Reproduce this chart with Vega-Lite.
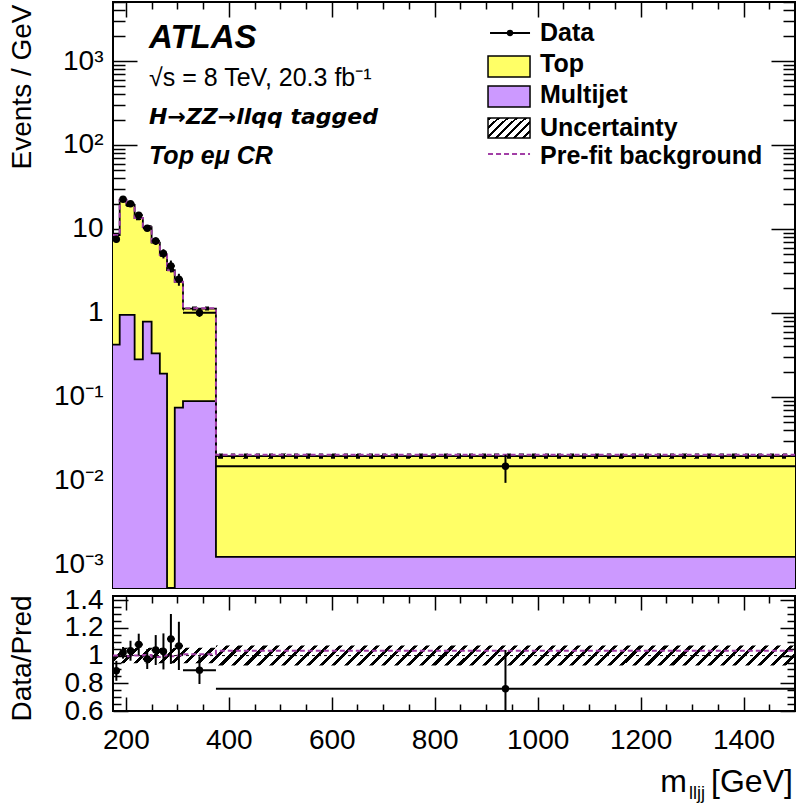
{
  "$schema": "https://vega.github.io/schema/vega-lite/v6.json",
  "autosize": {"type": "pad"},
  "bounds": "flush",
  "padding": {"left": 6, "top": 0, "right": 2, "bottom": 2},
  "spacing": 8,
  "config": {
    "view": {"stroke": "black", "strokeWidth": 2},
    "font": "Liberation Sans",
    "axis": {"domain": false, "grid": false, "labelFont": "Liberation Sans", "labelFontSize": 28, "labelColor": "black", "tickColor": "black", "tickWidth": 1.5, "tickSize": 0, "titleFont": "Liberation Sans", "titleFontSize": 28, "titleFontWeight": "normal", "titleColor": "black", "labelOverlap": false, "labelFlush": false, "labelBound": false, "zindex": 1, "minExtent": 0}
  },
  "datasets": {
    "bins": [
      {"lo": 175, "hi": 188, "xc": 181.5, "total": 8.47, "mj": 0.42, "pre": 8.47, "uLo": 8.0, "uHi": 8.94, "data": 7.54, "dLo": 6.93, "dHi": 8.15, "ratio": 0.89, "rLo": 0.818, "rHi": 0.962, "preR": 1.0, "bLo": 0.944, "bHi": 1.056},
      {"lo": 188, "hi": 201, "xc": 194.5, "total": 22.2, "mj": 0.95, "pre": 22.31, "uLo": 20.96, "uHi": 23.44, "data": 22.6, "dLo": 21.67, "dHi": 23.53, "ratio": 1.02, "rLo": 0.978, "rHi": 1.062, "preR": 1.005, "bLo": 0.944, "bHi": 1.056},
      {"lo": 201, "hi": 217, "xc": 209, "total": 19.3, "mj": 0.95, "pre": 19.2, "uLo": 18.22, "uHi": 20.38, "data": 20.0, "dLo": 18.61, "dHi": 21.39, "ratio": 1.035, "rLo": 0.963, "rHi": 1.107, "preR": 0.995, "bLo": 0.944, "bHi": 1.056},
      {"lo": 217, "hi": 233, "xc": 225, "total": 13.5, "mj": 0.28, "pre": 13.5, "uLo": 12.74, "uHi": 14.26, "data": 14.6, "dLo": 13.55, "dHi": 15.65, "ratio": 1.08, "rLo": 1.002, "rHi": 1.158, "preR": 1.0, "bLo": 0.944, "bHi": 1.056},
      {"lo": 233, "hi": 250, "xc": 241.5, "total": 10.5, "mj": 0.79, "pre": 10.55, "uLo": 9.91, "uHi": 11.09, "data": 10.2, "dLo": 9.45, "dHi": 10.95, "ratio": 0.975, "rLo": 0.903, "rHi": 1.047, "preR": 1.005, "bLo": 0.944, "bHi": 1.056},
      {"lo": 250, "hi": 266, "xc": 258, "total": 6.9, "mj": 0.33, "pre": 6.83, "uLo": 6.51, "uHi": 7.29, "data": 7.2, "dLo": 6.45, "dHi": 7.95, "ratio": 1.04, "rLo": 0.932, "rHi": 1.148, "preR": 0.99, "bLo": 0.944, "bHi": 1.056},
      {"lo": 266, "hi": 280, "xc": 273, "total": 4.95, "mj": 0.19, "pre": 4.95, "uLo": 4.67, "uHi": 5.23, "data": 5.1, "dLo": 4.46, "dHi": 5.74, "ratio": 1.03, "rLo": 0.9, "rHi": 1.16, "preR": 1.0, "bLo": 0.944, "bHi": 1.056},
      {"lo": 280, "hi": 295, "xc": 287.5, "total": 3.24, "mj": 0.0001, "pre": 3.22, "uLo": 3.06, "uHi": 3.42, "data": 3.63, "dLo": 3.05, "dHi": 4.21, "ratio": 1.12, "rLo": 0.94, "rHi": 1.3, "preR": 0.995, "bLo": 0.944, "bHi": 1.056},
      {"lo": 295, "hi": 311, "xc": 303, "total": 2.35, "mj": 0.0746, "pre": 2.35, "uLo": 2.22, "uHi": 2.48, "data": 2.52, "dLo": 2.11, "dHi": 2.93, "ratio": 1.07, "rLo": 0.896, "rHi": 1.244, "preR": 1.0, "bLo": 0.944, "bHi": 1.056},
      {"lo": 311, "hi": 375, "xc": 343, "total": 1.13, "mj": 0.0895, "pre": 1.141, "uLo": 1.067, "uHi": 1.193, "data": 1.01, "dLo": 0.897, "dHi": 1.123, "ratio": 0.895, "rLo": 0.795, "rHi": 0.995, "preR": 1.01, "bLo": 0.944, "bHi": 1.056},
      {"lo": 375, "hi": 1500, "xc": 937.5, "total": 0.0198, "mj": 0.00125, "pre": 0.0205, "uLo": 0.01837, "uHi": 0.02123, "data": 0.015, "dLo": 0.0095, "dHi": 0.0205, "ratio": 0.76, "rLo": 0.48, "rHi": 1.04, "preR": 1.035, "bLo": 0.928, "bHi": 1.072}
    ]
  },
  "vconcat": [
    {
      "width": 682,
      "height": 586,
      "data": {"name": "bins"},
      "resolve": {"axis": {"x": "independent", "y": "independent"}},
      "layer": [
        {
          "transform": [{"fold": ["lo", "hi"], "as": ["edge", "x"]}],
          "mark": {"type": "area", "fill": "#cc99ff", "stroke": null},
          "encoding": {
            "x": {"field": "x", "type": "quantitative", "scale": {"domain": [175, 1500], "nice": false, "zero": false},
              "axis": {"orient": "bottom", "labels": false, "title": null, "tickSize": 15, "offset": -15, "values": [200, 400, 600, 800, 1000, 1200, 1400]}},
            "y": {"field": "mj", "type": "quantitative", "stack": null, "scale": {"type": "log", "domain": [0.000532, 5040], "nice": false, "clamp": true},
              "axis": {"orient": "left", "ticks": false, "title": "Events / GeV", "titleX": -83, "titleY": 2, "titleAngle": -90, "titleAlign": "right", "titleBaseline": "alphabetic", "labelPadding": 10,
                "values": [0.001, 0.01, 0.1, 1, 10, 100, 1000],
                "labelExpr": "datum.value == 1000 ? '10³' : datum.value == 100 ? '10²' : datum.value == 10 ? '10' : datum.value == 1 ? '1' : datum.value == 0.1 ? '10⁻¹' : datum.value == 0.01 ? '10⁻²' : '10⁻³'"}},
            "y2": {"datum": 0.000532}
          }
        },
        {
          "transform": [{"fold": ["lo", "hi"], "as": ["edge", "x"]}],
          "mark": {"type": "area", "fill": "#ffff66", "stroke": null},
          "encoding": {
            "x": {"field": "x", "type": "quantitative",
              "axis": {"orient": "top", "labels": false, "title": null, "tickSize": 15, "offset": -15, "values": [200, 400, 600, 800, 1000, 1200, 1400]}},
            "y": {"field": "total", "type": "quantitative", "stack": null,
              "axis": {"orient": "right", "labels": false, "title": null, "tickSize": 24, "offset": -24, "values": [0.001, 0.01, 0.1, 1, 10, 100, 1000]}},
            "y2": {"field": "mj"}
          }
        },
        {
          "transform": [{"fold": ["lo", "hi"], "as": ["edge", "x"]}],
          "mark": {"type": "area", "stroke": null, "fill": {"gradient": "linear", "x1": 0, "y1": 0, "x2": 1.028, "y2": 0.0301, "stops": [{"offset":0,"color":"#000"},{"offset":0.0059,"color":"#000"},{"offset":0.0059,"color":"#0000"},{"offset":0.0179,"color":"#0000"},{"offset":0.0179,"color":"#000"},{"offset":0.0238,"color":"#000"},{"offset":0.0238,"color":"#0000"},{"offset":0.0357,"color":"#0000"},{"offset":0.0357,"color":"#000"},{"offset":0.0416,"color":"#000"},{"offset":0.0416,"color":"#0000"},{"offset":0.0536,"color":"#0000"},{"offset":0.0536,"color":"#000"},{"offset":0.0595,"color":"#000"},{"offset":0.0595,"color":"#0000"},{"offset":0.0714,"color":"#0000"},{"offset":0.0714,"color":"#000"},{"offset":0.0773,"color":"#000"},{"offset":0.0773,"color":"#0000"},{"offset":0.0893,"color":"#0000"},{"offset":0.0893,"color":"#000"},{"offset":0.0952,"color":"#000"},{"offset":0.0952,"color":"#0000"},{"offset":0.1071,"color":"#0000"},{"offset":0.1071,"color":"#000"},{"offset":0.113,"color":"#000"},{"offset":0.113,"color":"#0000"},{"offset":0.125,"color":"#0000"},{"offset":0.125,"color":"#000"},{"offset":0.1309,"color":"#000"},{"offset":0.1309,"color":"#0000"},{"offset":0.1429,"color":"#0000"},{"offset":0.1429,"color":"#000"},{"offset":0.1488,"color":"#000"},{"offset":0.1488,"color":"#0000"},{"offset":0.1607,"color":"#0000"},{"offset":0.1607,"color":"#000"},{"offset":0.1666,"color":"#000"},{"offset":0.1666,"color":"#0000"},{"offset":0.1786,"color":"#0000"},{"offset":0.1786,"color":"#000"},{"offset":0.1845,"color":"#000"},{"offset":0.1845,"color":"#0000"},{"offset":0.1964,"color":"#0000"},{"offset":0.1964,"color":"#000"},{"offset":0.2023,"color":"#000"},{"offset":0.2023,"color":"#0000"},{"offset":0.2143,"color":"#0000"},{"offset":0.2143,"color":"#000"},{"offset":0.2202,"color":"#000"},{"offset":0.2202,"color":"#0000"},{"offset":0.2321,"color":"#0000"},{"offset":0.2321,"color":"#000"},{"offset":0.238,"color":"#000"},{"offset":0.238,"color":"#0000"},{"offset":0.25,"color":"#0000"},{"offset":0.25,"color":"#000"},{"offset":0.2559,"color":"#000"},{"offset":0.2559,"color":"#0000"},{"offset":0.2679,"color":"#0000"},{"offset":0.2679,"color":"#000"},{"offset":0.2738,"color":"#000"},{"offset":0.2738,"color":"#0000"},{"offset":0.2857,"color":"#0000"},{"offset":0.2857,"color":"#000"},{"offset":0.2916,"color":"#000"},{"offset":0.2916,"color":"#0000"},{"offset":0.3036,"color":"#0000"},{"offset":0.3036,"color":"#000"},{"offset":0.3095,"color":"#000"},{"offset":0.3095,"color":"#0000"},{"offset":0.3214,"color":"#0000"},{"offset":0.3214,"color":"#000"},{"offset":0.3273,"color":"#000"},{"offset":0.3273,"color":"#0000"},{"offset":0.3393,"color":"#0000"},{"offset":0.3393,"color":"#000"},{"offset":0.3452,"color":"#000"},{"offset":0.3452,"color":"#0000"},{"offset":0.3571,"color":"#0000"},{"offset":0.3571,"color":"#000"},{"offset":0.363,"color":"#000"},{"offset":0.363,"color":"#0000"},{"offset":0.375,"color":"#0000"},{"offset":0.375,"color":"#000"},{"offset":0.3809,"color":"#000"},{"offset":0.3809,"color":"#0000"},{"offset":0.3929,"color":"#0000"},{"offset":0.3929,"color":"#000"},{"offset":0.3988,"color":"#000"},{"offset":0.3988,"color":"#0000"},{"offset":0.4107,"color":"#0000"},{"offset":0.4107,"color":"#000"},{"offset":0.4166,"color":"#000"},{"offset":0.4166,"color":"#0000"},{"offset":0.4286,"color":"#0000"},{"offset":0.4286,"color":"#000"},{"offset":0.4345,"color":"#000"},{"offset":0.4345,"color":"#0000"},{"offset":0.4464,"color":"#0000"},{"offset":0.4464,"color":"#000"},{"offset":0.4523,"color":"#000"},{"offset":0.4523,"color":"#0000"},{"offset":0.4643,"color":"#0000"},{"offset":0.4643,"color":"#000"},{"offset":0.4702,"color":"#000"},{"offset":0.4702,"color":"#0000"},{"offset":0.4821,"color":"#0000"},{"offset":0.4821,"color":"#000"},{"offset":0.488,"color":"#000"},{"offset":0.488,"color":"#0000"},{"offset":0.5,"color":"#0000"},{"offset":0.5,"color":"#000"},{"offset":0.5059,"color":"#000"},{"offset":0.5059,"color":"#0000"},{"offset":0.5179,"color":"#0000"},{"offset":0.5179,"color":"#000"},{"offset":0.5238,"color":"#000"},{"offset":0.5238,"color":"#0000"},{"offset":0.5357,"color":"#0000"},{"offset":0.5357,"color":"#000"},{"offset":0.5416,"color":"#000"},{"offset":0.5416,"color":"#0000"},{"offset":0.5536,"color":"#0000"},{"offset":0.5536,"color":"#000"},{"offset":0.5595,"color":"#000"},{"offset":0.5595,"color":"#0000"},{"offset":0.5714,"color":"#0000"},{"offset":0.5714,"color":"#000"},{"offset":0.5773,"color":"#000"},{"offset":0.5773,"color":"#0000"},{"offset":0.5893,"color":"#0000"},{"offset":0.5893,"color":"#000"},{"offset":0.5952,"color":"#000"},{"offset":0.5952,"color":"#0000"},{"offset":0.6071,"color":"#0000"},{"offset":0.6071,"color":"#000"},{"offset":0.613,"color":"#000"},{"offset":0.613,"color":"#0000"},{"offset":0.625,"color":"#0000"},{"offset":0.625,"color":"#000"},{"offset":0.6309,"color":"#000"},{"offset":0.6309,"color":"#0000"},{"offset":0.6429,"color":"#0000"},{"offset":0.6429,"color":"#000"},{"offset":0.6488,"color":"#000"},{"offset":0.6488,"color":"#0000"},{"offset":0.6607,"color":"#0000"},{"offset":0.6607,"color":"#000"},{"offset":0.6666,"color":"#000"},{"offset":0.6666,"color":"#0000"},{"offset":0.6786,"color":"#0000"},{"offset":0.6786,"color":"#000"},{"offset":0.6845,"color":"#000"},{"offset":0.6845,"color":"#0000"},{"offset":0.6964,"color":"#0000"},{"offset":0.6964,"color":"#000"},{"offset":0.7023,"color":"#000"},{"offset":0.7023,"color":"#0000"},{"offset":0.7143,"color":"#0000"},{"offset":0.7143,"color":"#000"},{"offset":0.7202,"color":"#000"},{"offset":0.7202,"color":"#0000"},{"offset":0.7321,"color":"#0000"},{"offset":0.7321,"color":"#000"},{"offset":0.738,"color":"#000"},{"offset":0.738,"color":"#0000"},{"offset":0.75,"color":"#0000"},{"offset":0.75,"color":"#000"},{"offset":0.7559,"color":"#000"},{"offset":0.7559,"color":"#0000"},{"offset":0.7679,"color":"#0000"},{"offset":0.7679,"color":"#000"},{"offset":0.7738,"color":"#000"},{"offset":0.7738,"color":"#0000"},{"offset":0.7857,"color":"#0000"},{"offset":0.7857,"color":"#000"},{"offset":0.7916,"color":"#000"},{"offset":0.7916,"color":"#0000"},{"offset":0.8036,"color":"#0000"},{"offset":0.8036,"color":"#000"},{"offset":0.8095,"color":"#000"},{"offset":0.8095,"color":"#0000"},{"offset":0.8214,"color":"#0000"},{"offset":0.8214,"color":"#000"},{"offset":0.8273,"color":"#000"},{"offset":0.8273,"color":"#0000"},{"offset":0.8393,"color":"#0000"},{"offset":0.8393,"color":"#000"},{"offset":0.8452,"color":"#000"},{"offset":0.8452,"color":"#0000"},{"offset":0.8571,"color":"#0000"},{"offset":0.8571,"color":"#000"},{"offset":0.863,"color":"#000"},{"offset":0.863,"color":"#0000"},{"offset":0.875,"color":"#0000"},{"offset":0.875,"color":"#000"},{"offset":0.8809,"color":"#000"},{"offset":0.8809,"color":"#0000"},{"offset":0.8929,"color":"#0000"},{"offset":0.8929,"color":"#000"},{"offset":0.8988,"color":"#000"},{"offset":0.8988,"color":"#0000"},{"offset":0.9107,"color":"#0000"},{"offset":0.9107,"color":"#000"},{"offset":0.9166,"color":"#000"},{"offset":0.9166,"color":"#0000"},{"offset":0.9286,"color":"#0000"},{"offset":0.9286,"color":"#000"},{"offset":0.9345,"color":"#000"},{"offset":0.9345,"color":"#0000"},{"offset":0.9464,"color":"#0000"},{"offset":0.9464,"color":"#000"},{"offset":0.9523,"color":"#000"},{"offset":0.9523,"color":"#0000"},{"offset":0.9643,"color":"#0000"},{"offset":0.9643,"color":"#000"},{"offset":0.9702,"color":"#000"},{"offset":0.9702,"color":"#0000"},{"offset":0.9821,"color":"#0000"},{"offset":0.9821,"color":"#000"},{"offset":0.988,"color":"#000"},{"offset":0.988,"color":"#0000"},{"offset":1,"color":"#0000"}]}},
          "encoding": {
            "x": {"field": "x", "type": "quantitative",
              "axis": {"orient": "bottom", "labels": false, "title": null, "tickSize": 7, "offset": -7, "values": [250,300,350,450,500,550,650,700,750,850,900,950,1050,1100,1150,1250,1300,1350,1450,1500]}},
            "y": {"field": "uLo", "type": "quantitative", "stack": null,
              "axis": {"orient": "left", "labels": false, "title": null, "tickSize": 24, "offset": -24, "values": [0.001, 0.01, 0.1, 1, 10, 100, 1000]}},
            "y2": {"field": "uHi"}
          }
        },
        {
          "transform": [{"fold": ["lo", "hi"], "as": ["edge", "x"]}],
          "mark": {"type": "line", "color": "black", "strokeWidth": 1.8},
          "encoding": {
            "x": {"field": "x", "type": "quantitative",
              "axis": {"orient": "top", "labels": false, "title": null, "tickSize": 7, "offset": -7, "values": [250,300,350,450,500,550,650,700,750,850,900,950,1050,1100,1150,1250,1300,1350,1450,1500]}},
            "y": {"field": "mj", "type": "quantitative",
              "axis": {"orient": "left", "labels": false, "title": null, "tickSize": 12, "offset": -12, "values": [0.0006,0.0007,0.0008,0.0009,0.002,0.003,0.004,0.005,0.006,0.007,0.008,0.009,0.02,0.03,0.04,0.05,0.06,0.07,0.08,0.09,0.2,0.3,0.4,0.5,0.6,0.7,0.8,0.9,2,3,4,5,6,7,8,9,20,30,40,50,60,70,80,90,200,300,400,500,600,700,800,900,2000,3000,4000,5000]}}
          }
        },
        {
          "transform": [{"fold": ["lo", "hi"], "as": ["edge", "x"]}],
          "mark": {"type": "line", "color": "black", "strokeWidth": 1.8},
          "encoding": {
            "x": {"field": "x", "type": "quantitative", "axis": null},
            "y": {"field": "total", "type": "quantitative",
              "axis": {"orient": "right", "labels": false, "title": null, "tickSize": 12, "offset": -12, "values": [0.0006,0.0007,0.0008,0.0009,0.002,0.003,0.004,0.005,0.006,0.007,0.008,0.009,0.02,0.03,0.04,0.05,0.06,0.07,0.08,0.09,0.2,0.3,0.4,0.5,0.6,0.7,0.8,0.9,2,3,4,5,6,7,8,9,20,30,40,50,60,70,80,90,200,300,400,500,600,700,800,900,2000,3000,4000,5000]}}
          }
        },
        {
          "transform": [{"fold": ["lo", "hi"], "as": ["edge", "x"]}],
          "mark": {"type": "line", "color": "#a23ea6", "strokeWidth": 2, "strokeDash": [5, 3]},
          "encoding": {
            "x": {"field": "x", "type": "quantitative", "axis": null},
            "y": {"field": "pre", "type": "quantitative", "axis": null}
          }
        },
        {
          "mark": {"type": "rule", "color": "black", "strokeWidth": 2},
          "encoding": {
            "x": {"field": "xc", "type": "quantitative", "axis": null},
            "y": {"field": "dLo", "type": "quantitative", "axis": null},
            "y2": {"field": "dHi"}
          }
        },
        {
          "mark": {"type": "rule", "color": "black", "strokeWidth": 2},
          "encoding": {
            "x": {"field": "lo", "type": "quantitative", "axis": null},
            "x2": {"field": "hi"},
            "y": {"field": "data", "type": "quantitative", "axis": null}
          }
        },
        {
          "mark": {"type": "point", "filled": true, "color": "black", "opacity": 1, "size": 55},
          "encoding": {
            "x": {"field": "xc", "type": "quantitative", "axis": null},
            "y": {"field": "data", "type": "quantitative", "axis": null}
          }
        },
        {
          "data": {"values": [{}]},
          "mark": {"type": "text", "align": "left", "baseline": "middle", "font": "Liberation Sans", "fontSize": 33, "fontWeight": "bold", "fontStyle": "italic", "color": "black"},
          "encoding": {"x": {"datum": 245, "type": "quantitative", "axis": null}, "y": {"datum": 1880, "type": "quantitative", "axis": null}, "text": {"value": "ATLAS"}}
        },
        {
          "data": {"values": [{}]},
          "mark": {"type": "text", "align": "left", "baseline": "middle", "font": "Liberation Sans", "fontSize": 25, "color": "black"},
          "encoding": {"x": {"datum": 245, "type": "quantitative", "axis": null}, "y": {"datum": 628, "type": "quantitative", "axis": null}, "text": {"value": "√s = 8 TeV, 20.3 fb⁻¹"}}
        },
        {
          "data": {"values": [{}]},
          "mark": {"type": "text", "align": "left", "baseline": "middle", "font": "DejaVu Sans", "fontSize": 22, "fontWeight": "bold", "fontStyle": "italic", "color": "black"},
          "encoding": {"x": {"datum": 245, "type": "quantitative", "axis": null}, "y": {"datum": 215, "type": "quantitative", "axis": null}, "text": {"value": "H→ZZ→llqq tagged"}}
        },
        {
          "data": {"values": [{}]},
          "mark": {"type": "text", "align": "left", "baseline": "middle", "font": "Liberation Sans", "fontSize": 25, "fontWeight": "bold", "fontStyle": "italic", "color": "black"},
          "encoding": {"x": {"datum": 245, "type": "quantitative", "axis": null}, "y": {"datum": 74, "type": "quantitative", "axis": null}, "text": {"value": "Top eμ CR"}}
        },
        {
          "data": {"values": [{}]},
          "mark": {"type": "rule", "color": "black", "strokeWidth": 2},
          "encoding": {"x": {"datum": 907.5, "type": "quantitative", "axis": null}, "x2": {"datum": 985.2}, "y": {"datum": 2154, "type": "quantitative", "axis": null}}
        },
        {
          "data": {"values": [{}]},
          "mark": {"type": "point", "filled": true, "color": "black", "opacity": 1, "size": 40},
          "encoding": {"x": {"datum": 946.3, "type": "quantitative", "axis": null}, "y": {"datum": 2154, "type": "quantitative", "axis": null}}
        },
        {
          "data": {"values": [{}]},
          "mark": {"type": "rect", "fill": "#ffff66", "stroke": "black", "strokeWidth": 1.5},
          "encoding": {"x": {"datum": 903.6, "type": "quantitative", "axis": null}, "x2": {"datum": 985.2}, "y": {"datum": 645, "type": "quantitative", "axis": null}, "y2": {"datum": 1147}}
        },
        {
          "data": {"values": [{}]},
          "mark": {"type": "rect", "fill": "#cc99ff", "stroke": "black", "strokeWidth": 1.5},
          "encoding": {"x": {"datum": 903.6, "type": "quantitative", "axis": null}, "x2": {"datum": 985.2}, "y": {"datum": 283, "type": "quantitative", "axis": null}, "y2": {"datum": 504}}
        },
        {
          "data": {"values": [{}]},
          "mark": {"type": "rect", "stroke": "black", "strokeWidth": 1.5, "fill": {"gradient": "linear", "x1": 0, "y1": 0, "x2": 1.2, "y2": 0.6, "stops": [{"offset":0,"color":"#000"},{"offset":0.0471,"color":"#000"},{"offset":0.0471,"color":"#fff"},{"offset":0.1429,"color":"#fff"},{"offset":0.1429,"color":"#000"},{"offset":0.19,"color":"#000"},{"offset":0.19,"color":"#fff"},{"offset":0.2857,"color":"#fff"},{"offset":0.2857,"color":"#000"},{"offset":0.3328,"color":"#000"},{"offset":0.3328,"color":"#fff"},{"offset":0.4286,"color":"#fff"},{"offset":0.4286,"color":"#000"},{"offset":0.4757,"color":"#000"},{"offset":0.4757,"color":"#fff"},{"offset":0.5714,"color":"#fff"},{"offset":0.5714,"color":"#000"},{"offset":0.6185,"color":"#000"},{"offset":0.6185,"color":"#fff"},{"offset":0.7143,"color":"#fff"},{"offset":0.7143,"color":"#000"},{"offset":0.7614,"color":"#000"},{"offset":0.7614,"color":"#fff"},{"offset":0.8571,"color":"#fff"},{"offset":0.8571,"color":"#000"},{"offset":0.9042,"color":"#000"},{"offset":0.9042,"color":"#fff"},{"offset":1,"color":"#fff"}]}},
          "encoding": {"x": {"datum": 903.6, "type": "quantitative", "axis": null}, "x2": {"datum": 985.2}, "y": {"datum": 121, "type": "quantitative", "axis": null}, "y2": {"datum": 209}}
        },
        {
          "data": {"values": [{}]},
          "mark": {"type": "rule", "color": "#a23ea6", "strokeWidth": 2, "strokeDash": [5, 3]},
          "encoding": {"x": {"datum": 903.6, "type": "quantitative", "axis": null}, "x2": {"datum": 985.2}, "y": {"datum": 78.2, "type": "quantitative", "axis": null}}
        },
        {
          "data": {"values": [{}]},
          "mark": {"type": "text", "align": "left", "baseline": "middle", "font": "Liberation Sans", "fontSize": 25, "fontWeight": "bold", "color": "black"},
          "encoding": {"x": {"datum": 1004.6, "type": "quantitative", "axis": null}, "y": {"datum": 2154, "type": "quantitative", "axis": null}, "text": {"value": "Data"}}
        },
        {
          "data": {"values": [{}]},
          "mark": {"type": "text", "align": "left", "baseline": "middle", "font": "Liberation Sans", "fontSize": 25, "fontWeight": "bold", "color": "black"},
          "encoding": {"x": {"datum": 1004.6, "type": "quantitative", "axis": null}, "y": {"datum": 921, "type": "quantitative", "axis": null}, "text": {"value": "Top"}}
        },
        {
          "data": {"values": [{}]},
          "mark": {"type": "text", "align": "left", "baseline": "middle", "font": "Liberation Sans", "fontSize": 25, "fontWeight": "bold", "color": "black"},
          "encoding": {"x": {"datum": 1004.6, "type": "quantitative", "axis": null}, "y": {"datum": 394, "type": "quantitative", "axis": null}, "text": {"value": "Multijet"}}
        },
        {
          "data": {"values": [{}]},
          "mark": {"type": "text", "align": "left", "baseline": "middle", "font": "Liberation Sans", "fontSize": 25, "fontWeight": "bold", "color": "black"},
          "encoding": {"x": {"datum": 1004.6, "type": "quantitative", "axis": null}, "y": {"datum": 159, "type": "quantitative", "axis": null}, "text": {"value": "Uncertainty"}}
        },
        {
          "data": {"values": [{}]},
          "mark": {"type": "text", "align": "left", "baseline": "middle", "font": "Liberation Sans", "fontSize": 25, "fontWeight": "bold", "color": "black"},
          "encoding": {"x": {"datum": 1004.6, "type": "quantitative", "axis": null}, "y": {"datum": 74, "type": "quantitative", "axis": null}, "text": {"value": "Pre-fit background"}}
        }
      ]
    },
    {
      "width": 682,
      "height": 115,
      "data": {"name": "bins"},
      "resolve": {"axis": {"x": "independent", "y": "independent"}},
      "layer": [
        {
          "transform": [{"fold": ["lo", "hi"], "as": ["edge", "x"]}],
          "mark": {"type": "area", "stroke": null, "fill": {"gradient": "linear", "x1": 0, "y1": 0, "x2": 1.028, "y2": 0.0301, "stops": [{"offset":0,"color":"#000"},{"offset":0.0059,"color":"#000"},{"offset":0.0059,"color":"#0000"},{"offset":0.0179,"color":"#0000"},{"offset":0.0179,"color":"#000"},{"offset":0.0238,"color":"#000"},{"offset":0.0238,"color":"#0000"},{"offset":0.0357,"color":"#0000"},{"offset":0.0357,"color":"#000"},{"offset":0.0416,"color":"#000"},{"offset":0.0416,"color":"#0000"},{"offset":0.0536,"color":"#0000"},{"offset":0.0536,"color":"#000"},{"offset":0.0595,"color":"#000"},{"offset":0.0595,"color":"#0000"},{"offset":0.0714,"color":"#0000"},{"offset":0.0714,"color":"#000"},{"offset":0.0773,"color":"#000"},{"offset":0.0773,"color":"#0000"},{"offset":0.0893,"color":"#0000"},{"offset":0.0893,"color":"#000"},{"offset":0.0952,"color":"#000"},{"offset":0.0952,"color":"#0000"},{"offset":0.1071,"color":"#0000"},{"offset":0.1071,"color":"#000"},{"offset":0.113,"color":"#000"},{"offset":0.113,"color":"#0000"},{"offset":0.125,"color":"#0000"},{"offset":0.125,"color":"#000"},{"offset":0.1309,"color":"#000"},{"offset":0.1309,"color":"#0000"},{"offset":0.1429,"color":"#0000"},{"offset":0.1429,"color":"#000"},{"offset":0.1488,"color":"#000"},{"offset":0.1488,"color":"#0000"},{"offset":0.1607,"color":"#0000"},{"offset":0.1607,"color":"#000"},{"offset":0.1666,"color":"#000"},{"offset":0.1666,"color":"#0000"},{"offset":0.1786,"color":"#0000"},{"offset":0.1786,"color":"#000"},{"offset":0.1845,"color":"#000"},{"offset":0.1845,"color":"#0000"},{"offset":0.1964,"color":"#0000"},{"offset":0.1964,"color":"#000"},{"offset":0.2023,"color":"#000"},{"offset":0.2023,"color":"#0000"},{"offset":0.2143,"color":"#0000"},{"offset":0.2143,"color":"#000"},{"offset":0.2202,"color":"#000"},{"offset":0.2202,"color":"#0000"},{"offset":0.2321,"color":"#0000"},{"offset":0.2321,"color":"#000"},{"offset":0.238,"color":"#000"},{"offset":0.238,"color":"#0000"},{"offset":0.25,"color":"#0000"},{"offset":0.25,"color":"#000"},{"offset":0.2559,"color":"#000"},{"offset":0.2559,"color":"#0000"},{"offset":0.2679,"color":"#0000"},{"offset":0.2679,"color":"#000"},{"offset":0.2738,"color":"#000"},{"offset":0.2738,"color":"#0000"},{"offset":0.2857,"color":"#0000"},{"offset":0.2857,"color":"#000"},{"offset":0.2916,"color":"#000"},{"offset":0.2916,"color":"#0000"},{"offset":0.3036,"color":"#0000"},{"offset":0.3036,"color":"#000"},{"offset":0.3095,"color":"#000"},{"offset":0.3095,"color":"#0000"},{"offset":0.3214,"color":"#0000"},{"offset":0.3214,"color":"#000"},{"offset":0.3273,"color":"#000"},{"offset":0.3273,"color":"#0000"},{"offset":0.3393,"color":"#0000"},{"offset":0.3393,"color":"#000"},{"offset":0.3452,"color":"#000"},{"offset":0.3452,"color":"#0000"},{"offset":0.3571,"color":"#0000"},{"offset":0.3571,"color":"#000"},{"offset":0.363,"color":"#000"},{"offset":0.363,"color":"#0000"},{"offset":0.375,"color":"#0000"},{"offset":0.375,"color":"#000"},{"offset":0.3809,"color":"#000"},{"offset":0.3809,"color":"#0000"},{"offset":0.3929,"color":"#0000"},{"offset":0.3929,"color":"#000"},{"offset":0.3988,"color":"#000"},{"offset":0.3988,"color":"#0000"},{"offset":0.4107,"color":"#0000"},{"offset":0.4107,"color":"#000"},{"offset":0.4166,"color":"#000"},{"offset":0.4166,"color":"#0000"},{"offset":0.4286,"color":"#0000"},{"offset":0.4286,"color":"#000"},{"offset":0.4345,"color":"#000"},{"offset":0.4345,"color":"#0000"},{"offset":0.4464,"color":"#0000"},{"offset":0.4464,"color":"#000"},{"offset":0.4523,"color":"#000"},{"offset":0.4523,"color":"#0000"},{"offset":0.4643,"color":"#0000"},{"offset":0.4643,"color":"#000"},{"offset":0.4702,"color":"#000"},{"offset":0.4702,"color":"#0000"},{"offset":0.4821,"color":"#0000"},{"offset":0.4821,"color":"#000"},{"offset":0.488,"color":"#000"},{"offset":0.488,"color":"#0000"},{"offset":0.5,"color":"#0000"},{"offset":0.5,"color":"#000"},{"offset":0.5059,"color":"#000"},{"offset":0.5059,"color":"#0000"},{"offset":0.5179,"color":"#0000"},{"offset":0.5179,"color":"#000"},{"offset":0.5238,"color":"#000"},{"offset":0.5238,"color":"#0000"},{"offset":0.5357,"color":"#0000"},{"offset":0.5357,"color":"#000"},{"offset":0.5416,"color":"#000"},{"offset":0.5416,"color":"#0000"},{"offset":0.5536,"color":"#0000"},{"offset":0.5536,"color":"#000"},{"offset":0.5595,"color":"#000"},{"offset":0.5595,"color":"#0000"},{"offset":0.5714,"color":"#0000"},{"offset":0.5714,"color":"#000"},{"offset":0.5773,"color":"#000"},{"offset":0.5773,"color":"#0000"},{"offset":0.5893,"color":"#0000"},{"offset":0.5893,"color":"#000"},{"offset":0.5952,"color":"#000"},{"offset":0.5952,"color":"#0000"},{"offset":0.6071,"color":"#0000"},{"offset":0.6071,"color":"#000"},{"offset":0.613,"color":"#000"},{"offset":0.613,"color":"#0000"},{"offset":0.625,"color":"#0000"},{"offset":0.625,"color":"#000"},{"offset":0.6309,"color":"#000"},{"offset":0.6309,"color":"#0000"},{"offset":0.6429,"color":"#0000"},{"offset":0.6429,"color":"#000"},{"offset":0.6488,"color":"#000"},{"offset":0.6488,"color":"#0000"},{"offset":0.6607,"color":"#0000"},{"offset":0.6607,"color":"#000"},{"offset":0.6666,"color":"#000"},{"offset":0.6666,"color":"#0000"},{"offset":0.6786,"color":"#0000"},{"offset":0.6786,"color":"#000"},{"offset":0.6845,"color":"#000"},{"offset":0.6845,"color":"#0000"},{"offset":0.6964,"color":"#0000"},{"offset":0.6964,"color":"#000"},{"offset":0.7023,"color":"#000"},{"offset":0.7023,"color":"#0000"},{"offset":0.7143,"color":"#0000"},{"offset":0.7143,"color":"#000"},{"offset":0.7202,"color":"#000"},{"offset":0.7202,"color":"#0000"},{"offset":0.7321,"color":"#0000"},{"offset":0.7321,"color":"#000"},{"offset":0.738,"color":"#000"},{"offset":0.738,"color":"#0000"},{"offset":0.75,"color":"#0000"},{"offset":0.75,"color":"#000"},{"offset":0.7559,"color":"#000"},{"offset":0.7559,"color":"#0000"},{"offset":0.7679,"color":"#0000"},{"offset":0.7679,"color":"#000"},{"offset":0.7738,"color":"#000"},{"offset":0.7738,"color":"#0000"},{"offset":0.7857,"color":"#0000"},{"offset":0.7857,"color":"#000"},{"offset":0.7916,"color":"#000"},{"offset":0.7916,"color":"#0000"},{"offset":0.8036,"color":"#0000"},{"offset":0.8036,"color":"#000"},{"offset":0.8095,"color":"#000"},{"offset":0.8095,"color":"#0000"},{"offset":0.8214,"color":"#0000"},{"offset":0.8214,"color":"#000"},{"offset":0.8273,"color":"#000"},{"offset":0.8273,"color":"#0000"},{"offset":0.8393,"color":"#0000"},{"offset":0.8393,"color":"#000"},{"offset":0.8452,"color":"#000"},{"offset":0.8452,"color":"#0000"},{"offset":0.8571,"color":"#0000"},{"offset":0.8571,"color":"#000"},{"offset":0.863,"color":"#000"},{"offset":0.863,"color":"#0000"},{"offset":0.875,"color":"#0000"},{"offset":0.875,"color":"#000"},{"offset":0.8809,"color":"#000"},{"offset":0.8809,"color":"#0000"},{"offset":0.8929,"color":"#0000"},{"offset":0.8929,"color":"#000"},{"offset":0.8988,"color":"#000"},{"offset":0.8988,"color":"#0000"},{"offset":0.9107,"color":"#0000"},{"offset":0.9107,"color":"#000"},{"offset":0.9166,"color":"#000"},{"offset":0.9166,"color":"#0000"},{"offset":0.9286,"color":"#0000"},{"offset":0.9286,"color":"#000"},{"offset":0.9345,"color":"#000"},{"offset":0.9345,"color":"#0000"},{"offset":0.9464,"color":"#0000"},{"offset":0.9464,"color":"#000"},{"offset":0.9523,"color":"#000"},{"offset":0.9523,"color":"#0000"},{"offset":0.9643,"color":"#0000"},{"offset":0.9643,"color":"#000"},{"offset":0.9702,"color":"#000"},{"offset":0.9702,"color":"#0000"},{"offset":0.9821,"color":"#0000"},{"offset":0.9821,"color":"#000"},{"offset":0.988,"color":"#000"},{"offset":0.988,"color":"#0000"},{"offset":1,"color":"#0000"}]}},
          "encoding": {
            "x": {"field": "x", "type": "quantitative", "scale": {"domain": [175, 1500], "nice": false, "zero": false},
              "axis": {"orient": "bottom", "title": null, "ticks": false, "labelPadding": 15, "values": [200, 400, 600, 800, 1000, 1200, 1400],
                "labelExpr": "'' + datum.value"}},
            "y": {"field": "bLo", "type": "quantitative", "stack": null, "scale": {"domain": [0.6, 1.43], "nice": false, "zero": false},
              "axis": {"orient": "left", "ticks": false, "title": "Data/Pred", "titleX": -83, "titleY": 62, "titleAngle": -90, "titleAlign": "center", "titleBaseline": "alphabetic", "labelPadding": 10,
                "values": [0.6, 0.8, 1, 1.2, 1.4],
                "labelExpr": "format(datum.value, '~g')"}},
            "y2": {"field": "bHi"}
          }
        },
        {
          "data": {"values": [{}]},
          "mark": {"type": "rule", "color": "black", "strokeWidth": 1, "strokeDash": [3, 3]},
          "encoding": {"y": {"datum": 1, "type": "quantitative", "axis": null}}
        },
        {
          "transform": [{"fold": ["lo", "hi"], "as": ["edge", "x"]}],
          "mark": {"type": "line", "color": "#a23ea6", "strokeWidth": 2, "strokeDash": [5, 3]},
          "encoding": {
            "x": {"field": "x", "type": "quantitative",
              "axis": {"orient": "top", "labels": false, "title": null, "tickSize": 14, "offset": -14, "values": [200, 400, 600, 800, 1000, 1200, 1400]}},
            "y": {"field": "preR", "type": "quantitative",
              "axis": {"orient": "right", "labels": false, "title": null, "tickSize": 15, "offset": -15, "values": [0.6, 0.8, 1, 1.2, 1.4]}}
          }
        },
        {
          "mark": {"type": "rule", "color": "black", "strokeWidth": 2, "clip": true},
          "encoding": {
            "x": {"field": "xc", "type": "quantitative",
              "axis": {"orient": "bottom", "labels": false, "title": null, "tickSize": 14, "offset": -14, "values": [200, 400, 600, 800, 1000, 1200, 1400]}},
            "y": {"field": "rLo", "type": "quantitative",
              "axis": {"orient": "left", "labels": false, "title": null, "tickSize": 15, "offset": -15, "values": [0.6, 0.8, 1, 1.2, 1.4]}},
            "y2": {"field": "rHi"}
          }
        },
        {
          "mark": {"type": "rule", "color": "black", "strokeWidth": 2},
          "encoding": {
            "x": {"field": "lo", "type": "quantitative",
              "axis": {"orient": "bottom", "labels": false, "title": null, "tickSize": 7, "offset": -7, "values": [250,300,350,450,500,550,650,700,750,850,900,950,1050,1100,1150,1250,1300,1350,1450,1500]}},
            "x2": {"field": "hi"},
            "y": {"field": "ratio", "type": "quantitative",
              "axis": {"orient": "left", "labels": false, "title": null, "tickSize": 8, "offset": -8, "values": [0.65,0.7,0.75,0.85,0.9,0.95,1.05,1.1,1.15,1.25,1.3,1.35]}}
          }
        },
        {
          "mark": {"type": "point", "filled": true, "color": "black", "opacity": 1, "size": 55},
          "encoding": {
            "x": {"field": "xc", "type": "quantitative",
              "axis": {"orient": "top", "labels": false, "title": null, "tickSize": 7, "offset": -7, "values": [250,300,350,450,500,550,650,700,750,850,900,950,1050,1100,1150,1250,1300,1350,1450,1500]}},
            "y": {"field": "ratio", "type": "quantitative",
              "axis": {"orient": "right", "labels": false, "title": null, "tickSize": 8, "offset": -8, "values": [0.65,0.7,0.75,0.85,0.9,0.95,1.05,1.1,1.15,1.25,1.3,1.35]}}
          }
        },
        {
          "data": {"values": [{}]},
          "mark": {"type": "text", "align": "right", "baseline": "alphabetic", "font": "Liberation Sans", "fontSize": 32, "color": "black"},
          "encoding": {"x": {"datum": 1290.2, "type": "quantitative", "axis": null}, "y": {"datum": 0.0159, "type": "quantitative", "axis": null}, "text": {"value": "m"}}
        },
        {
          "data": {"values": [{}]},
          "mark": {"type": "text", "align": "left", "baseline": "alphabetic", "font": "Liberation Sans", "fontSize": 18, "color": "black"},
          "encoding": {"x": {"datum": 1294.1, "type": "quantitative", "axis": null}, "y": {"datum": -0.0347, "type": "quantitative", "axis": null}, "text": {"value": "lljj"}}
        },
        {
          "data": {"values": [{}]},
          "mark": {"type": "text", "align": "left", "baseline": "alphabetic", "font": "Liberation Sans", "fontSize": 32, "color": "black"},
          "encoding": {"x": {"datum": 1336.9, "type": "quantitative", "axis": null}, "y": {"datum": 0.0159, "type": "quantitative", "axis": null}, "text": {"value": "[GeV]"}}
        }
      ]
    }
  ]
}
